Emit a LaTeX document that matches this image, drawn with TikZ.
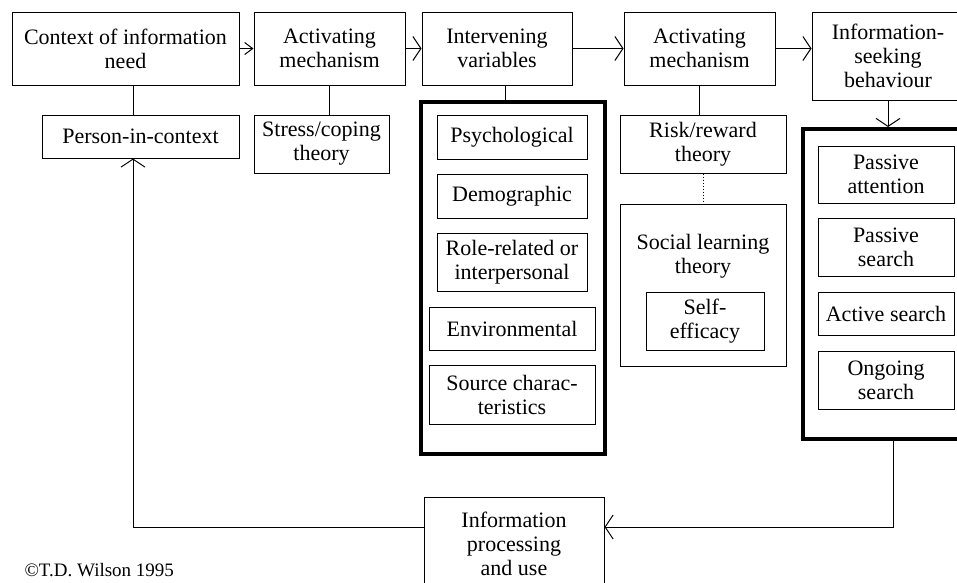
\documentclass[tikz,border=0pt]{standalone}
\usepackage{fontspec}
\setmainfont{Liberation Serif}
\usetikzlibrary{arrows.meta}

\begin{document}
\begin{tikzpicture}[x=1pt, y=-1pt, line width=1pt,
    box/.style={draw, align=center, inner sep=0pt, font=\fontsize{22}{24}\selectfont},
    group/.style={draw, line width=4pt, inner sep=0pt},
    barb/.style={-{Straight Barb[length=8pt,width=24pt]}}]
  \useasboundingbox (0,0) rectangle (957,582);
  \node[box, minimum width=227pt, minimum height=73pt] (ctx) at (125.5,48.5) {Context of information\\need};
  \node[box, minimum width=151pt, minimum height=73pt] (act1) at (329.5,48.5) {Activating\\mechanism};
  \node[box, minimum width=150pt, minimum height=73pt] (intv) at (497,48.5) {Intervening\\variables};
  \node[box, minimum width=151pt, minimum height=73pt] (act2) at (699.5,48.5) {Activating\\mechanism};
  \node[box, minimum width=152pt, minimum height=88pt] (isb) at (888,56) {Information-\\seeking\\behaviour};
  \node[box, minimum width=197pt, minimum height=43pt] (pic) at (140.5,136.5) {Person-in-context};
  \node[box, minimum width=135pt, minimum height=58pt] (stress) at (321.5,144) {Stress/coping\\theory};
  \node[group, minimum width=184pt, minimum height=352pt] (ivbox) at (513,278) {};
  \node[box, minimum width=150pt, minimum height=44pt] (psy) at (512,137) {Psychological};
  \node[box, minimum width=150pt, minimum height=44pt] (demo) at (512,196) {Demographic};
  \node[box, minimum width=150pt, minimum height=58pt] (role) at (512,262) {Role-related or\\interpersonal};
  \node[box, minimum width=166pt, minimum height=43pt] (env) at (512,328.5) {Environmental};
  \node[box, minimum width=166pt, minimum height=59pt] (src) at (512,394.5) {Source charac-\\teristics};
  \node[box, minimum width=166pt, minimum height=58pt] (risk) at (703,144) {Risk/reward\\theory};
  \node[box, minimum width=166pt, minimum height=162pt] (slt) at (703,285) {};
  \node[box, draw=none] (slttext) at (703,256) {Social learning\\theory};
  \node[box, minimum width=118pt, minimum height=58pt] (self) at (705,321) {Self-\\efficacy};
  \node[group, minimum width=165pt, minimum height=310pt] (isbox) at (885.5,284) {};
  \node[box, minimum width=136pt, minimum height=57pt] (pa) at (886,174.5) {Passive\\attention};
  \node[box, minimum width=136pt, minimum height=58pt] (ps) at (886,247) {Passive\\search};
  \node[box, minimum width=136pt, minimum height=43pt] (as) at (886,313.5) {Active search};
  \node[box, minimum width=136pt, minimum height=58pt] (os) at (886,380) {Ongoing\\search};
  \node[box, minimum width=180pt, minimum height=93pt] (ipu) at (514,543.5) {Information\\processing\\and use};
  \node[anchor=base west, inner sep=0pt, font=\fontsize{19}{22}\selectfont] (copy) at (24,576) {\textcopyright T.D. Wilson 1995};
  \coordinate (back) at (133,527);
  \coordinate (fwd) at (893,527);
  \draw[-{Straight Barb[length=8pt,width=12pt]}] (ctx) -- (act1);
  \draw[barb] (act1) -- (intv);
  \draw[barb] (intv) -- (act2);
  \draw[barb] (act2.east) -- (act2.east -| isb.west);
  \draw (ctx.south -| back) -- (pic.north -| back);
  \draw (act1.south) -- (act1.south |- stress.north);
  \draw ([xshift=8pt]intv.south) -- ([xshift=8pt]intv.south |- ivbox.north);
  \draw (act2.south) -- (act2.south |- risk.north);
  \draw[dotted] (risk.south) -- (slt.north);
  \draw[barb] (isb.south) -- (isb.south |- isbox.north);
  \draw[barb] (isbox.south -| fwd) -- (fwd) -- (ipu.east |- fwd);
  \draw[barb] (ipu.west |- back) -- (back) -- (back |- pic.south);
\end{tikzpicture}
\end{document}
